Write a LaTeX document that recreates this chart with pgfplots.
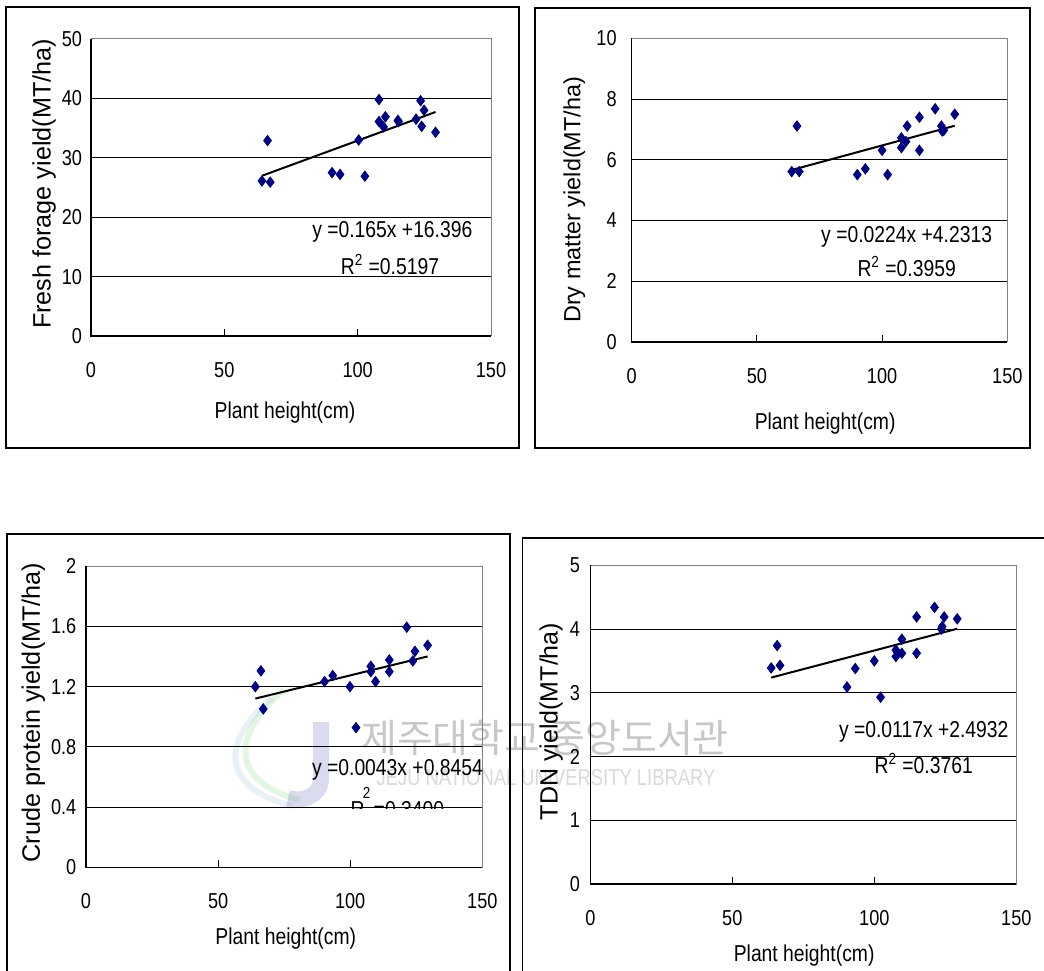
\documentclass[border=0pt]{standalone}
\usepackage{fontspec}
\setmainfont{Liberation Sans}
\newfontfamily\cond[FakeStretch=0.84]{Liberation Sans}
\newfontfamily\wmfont[FakeStretch=0.8]{Liberation Sans}
\newfontfamily\kr{Noto Sans CJK KR}
\usepackage{pgfplots}
\pgfplotsset{compat=1.18}
\definecolor{ptblue}{HTML}{000080}

\newcommand\tickfont{\cond\fontsize{10.8}{12}\selectfont}
\newcommand\labfont{\cond\fontsize{11.5}{13}\selectfont}
\newcommand\eqfont{\cond\fontsize{11.5}{13}\selectfont}

\pgfplotsset{
  panel/.style={
    scale only axis, anchor=south west, clip=false,
    xmin=0, xmax=150, xtick={0,50,100,150},
    axis line style={draw=black!50, line width=0.5pt},
    ymajorgrids, grid style={black, line width=0.5pt},
    tick align=inside, major tick length=3.5pt,
    tick style={black, line width=0.5pt},
    xtick pos=left, ytick pos=left,
    /pgf/number format/assume math mode=true,
    ticklabel style={font=\tickfont},
    xticklabel style={anchor=center, yshift=-17pt},
    xlabel={Plant height(cm)},
    xlabel style={font=\labfont, anchor=center},
    ylabel style={anchor=center},
  },
  pts/.style={only marks, mark=diamond*, mark size=2.6pt, color=ptblue},
  fit/.style={black, line width=1pt, no marks},
}
% left and bottom axis lines are black, top and right are grey
\newcommand\lbaxis{\draw[black, line width=0.6pt] (rel axis cs:0,1) -- (rel axis cs:0,0) -- (rel axis cs:1,0);}

\begin{document}
\begin{tikzpicture}
\useasboundingbox (0,0) rectangle (522pt,485pt);
\clip (0,0) rectangle (522pt,485pt);

% library watermark, behind everything
\draw[green!45!gray, opacity=0.15, line width=3pt] (142pt,140pt) .. controls (118pt,120pt) and (112pt,95pt) .. (150pt,85pt);
\draw[cyan!50!gray, opacity=0.15, line width=3pt] (136pt,136pt) .. controls (112pt,116pt) and (108pt,92pt) .. (146pt,82pt);
\draw[blue!40!gray, opacity=0.2, line width=8pt] (160.5pt,124pt) -- (160.5pt,96pt) .. controls (160.5pt,86pt) and (150pt,84pt) .. (144pt,86pt);
\node[text=black!22, font=\kr\fontsize{19.5}{21}\selectfont] at (272.5pt,116pt) {제주대학교 중앙도서관};
\node[text=black!15, font=\wmfont\fontsize{11.5}{13}\selectfont] at (273pt,96pt) {JEJU NATIONAL UNIVERSITY LIBRARY};

% panel frames
\draw[black, line width=0.8pt] (3pt,261pt) rectangle (259.5pt,481.5pt);
\draw[black, line width=0.8pt] (267.5pt,260.85pt) rectangle (515pt,480.85pt);
\draw[black, line width=0.8pt] (3.35pt,-5pt) rectangle (255pt,217.85pt);
\draw[black, line width=0.8pt] (261.15pt,-5pt) rectangle (530pt,215.85pt);

% fresh forage yield
\begin{axis}[panel, at={(45.5pt,317pt)}, width=200pt, height=148.5pt,
  ymin=0, ymax=50, ytick={0,10,...,50},
  yticklabel style={xshift=-1pt},
  ylabel={Fresh forage yield(MT/ha)},
  ylabel style={font=\fontsize{12.6}{14}\selectfont, at={(axis description cs:-0.1175,0.512)}},
  xlabel style={at={(axis description cs:0.485,-0.259)}}]
\addplot[pts] coordinates {(64.1,26.1)(66.2,32.9)(67.2,25.9)(90.4,27.5)(93.4,27.2)
  (100.4,33.0)(102.7,26.9)(108.0,39.8)(108.0,36.1)(110.4,36.9)(109.7,35.2)
  (115.1,36.3)(115.3,36.1)(121.9,36.5)(123.6,39.6)(124.0,35.3)(124.9,38.0)(129.2,34.3)};
\addplot[fit] coordinates {(64.1,26.97)(129.2,37.71)};
\lbaxis
\node[font=\eqfont] at (axis cs:113,17.5) {y =0.165x +16.396};
\node[font=\eqfont] at (axis cs:112.1,12.0) {R\textsuperscript{2} =0.5197};
\end{axis}

% dry matter yield
\begin{axis}[panel, at={(315.85pt,314pt)}, width=187.8pt, height=151.85pt,
  ymin=0, ymax=10, ytick={0,2,...,10},
  yticklabel style={xshift=-4pt},
  ylabel={Dry matter yield(MT/ha)},
  ylabel style={font=\fontsize{11.7}{14}\selectfont, at={(axis description cs:-0.153,0.468)}},
  xlabel style={at={(axis description cs:0.515,-0.268)}}]
\addplot[pts] coordinates {(63.9,5.61)(66.0,7.11)(66.9,5.61)(90.1,5.51)(93.3,5.70)
  (100.0,6.31)(102.2,5.51)(107.7,6.72)(107.7,6.40)(110.0,7.11)(109.5,6.60)
  (114.9,7.40)(114.9,6.31)(121.2,7.68)(123.7,7.11)(124.0,6.95)(124.6,6.97)(129.0,7.50)};
\addplot[fit] coordinates {(63.9,5.663)(129.0,7.121)};
\lbaxis
\node[font=\eqfont] at (axis cs:109.8,3.47) {y =0.0224x +4.2313};
\node[font=\eqfont] at (axis cs:109.8,2.48) {R\textsuperscript{2} =0.3959};
\end{axis}

% crude protein yield
\begin{axis}[panel, at={(43pt,51.35pt)}, width=198.15pt, height=150.5pt,
  ymin=0, ymax=2, ytick={0,0.4,0.8,1.2,1.6,2}, yticklabels={0,0.4,0.8,1.2,1.6,2},
  yticklabel style={xshift=-1.3pt},
  ylabel={Crude protein yield(MT/ha)},
  ylabel style={font=\fontsize{12.6}{14}\selectfont, at={(axis description cs:-0.133,0.514)}},
  xlabel style={at={(axis description cs:0.504,-0.236)}}]
\addplot[pts] coordinates {(64.1,1.200)(66.2,1.305)(67.1,1.052)(90.3,1.234)(93.4,1.274)
  (99.9,1.200)(102.2,0.928)(107.8,1.336)(107.8,1.300)(109.6,1.234)(114.8,1.378)
  (114.8,1.300)(121.4,1.595)(123.7,1.371)(124.5,1.435)(129.3,1.475)};
\addplot[fit] coordinates {(64.1,1.121)(129.3,1.401)};
\lbaxis
\node[font=\eqfont] at (axis cs:117.9,0.647) {y =0.0043x +0.8454};
\node[font=\cond\fontsize{8}{9}\selectfont] at (axis cs:106.2,0.494) {2};
\begin{scope}
  \clip (axis cs:95,0.394) rectangle (axis cs:145,0.6);
  \node[font=\eqfont, anchor=base west, inner sep=0pt] at (axis cs:100,0.333) {R\, =0.3400};
\end{scope}
\end{axis}

% TDN yield
\begin{axis}[panel, at={(295.15pt,43pt)}, width=213pt, height=159.35pt,
  ymin=0, ymax=5, ytick={0,1,...,5},
  yticklabel style={xshift=-1.6pt},
  ylabel={TDN yield(MT/ha)},
  ylabel style={font=\fontsize{12.5}{14}\selectfont, at={(axis description cs:-0.092,0.51)}},
  xlabel style={at={(axis description cs:0.502,-0.223)}}]
\addplot[pts] coordinates {(63.7,3.39)(65.8,3.74)(66.8,3.43)(90.4,3.09)(93.3,3.38)
  (100.0,3.50)(102.2,2.93)(107.6,3.57)(107.6,3.67)(109.7,3.84)(109.7,3.62)
  (114.9,4.19)(114.9,3.62)(121.2,4.34)(123.6,4.00)(123.9,4.04)(124.6,4.19)(129.2,4.16)};
\addplot[fit] coordinates {(63.7,3.2385)(129.2,4.0048)};
\lbaxis
\node[font=\eqfont] at (axis cs:117.4,2.39) {y =0.0117x +2.4932};
\node[font=\eqfont] at (axis cs:117.4,1.89) {R\textsuperscript{2} =0.3761};
\end{axis}
\end{tikzpicture}
\end{document}
